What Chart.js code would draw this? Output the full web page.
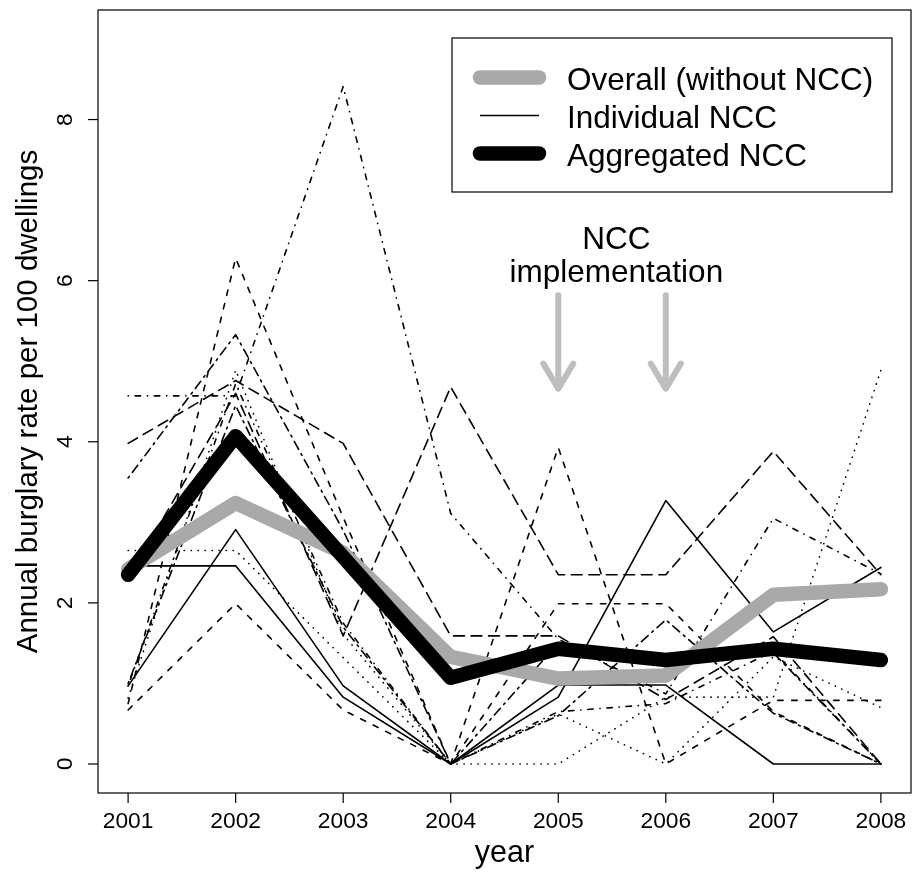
<!DOCTYPE html>
<html>
<head>
<meta charset="utf-8">
<script src="https://cdn.jsdelivr.net/npm/chart.js@4.4.1/dist/chart.umd.min.js"></script>
<style>
  html, body { margin: 0; padding: 0; background: #ffffff; }
  #wrap { width: 912px; height: 875px; }
</style>
</head>
<body>
<div id="wrap"><canvas id="chart" width="912" height="875"></canvas></div>
<script>
// Years on the horizontal axis and tick values on the vertical axis
const years = [2001, 2002, 2003, 2004, 2005, 2006, 2007, 2008];
const yTickValues = [0, 2, 4, 6, 8];

// Annual burglary rate per 100 dwellings
const overallWithoutNCC = [2.42, 3.24, 2.62, 1.33, 1.06, 1.10, 2.10, 2.17];
const aggregatedNCC     = [2.35, 4.07, 2.57, 1.07, 1.43, 1.29, 1.43, 1.29];

// Individual NCC areas
const nccSolidA    = [0.97, 2.91, 0.97, 0.00, 0.83, 3.27, 1.64, 2.44];
const nccSolidB    = [2.46, 2.46, 0.83, 0.00, 0.98, 0.98, 0.00, 0.00];
const nccDashedA   = [0.67, 1.99, 0.67, 0.00, 1.99, 1.99, 0.65, 0.00];
const nccDashedB   = [0.75, 6.28, 3.06, 0.00, 3.93, 0.00, 0.79, 0.79];
const nccDottedA   = [2.65, 2.65, 1.32, 0.00, 0.62, 0.00, 1.33, 0.70];
const nccDottedB   = [0.82, 4.89, 1.61, 0.00, 0.00, 0.83, 0.83, 4.89];
const nccDotDashA  = [4.57, 4.57, 8.41, 3.11, 1.55, 0.87, 3.05, 2.36];
const nccDotDashB  = [0.97, 4.72, 1.75, 0.00, 0.65, 0.75, 1.40, 0.00];
const nccLongDashA = [3.98, 4.76, 3.98, 1.59, 1.59, 0.80, 1.58, 0.00];
const nccLongDashB = [2.30, 4.60, 1.59, 4.68, 2.35, 2.35, 3.88, 2.35];
const nccTwoDashA  = [3.55, 5.33, 2.90, 0.00, 0.60, 1.79, 0.63, 0.00];
const nccTwoDashB  = [1.00, 4.45, 1.70, 0.00, 1.50, 1.25, 1.38, 0.00];

const individualSeries = [
  nccSolidA, nccSolidB, nccDashedA, nccDashedB, nccDottedA, nccDottedB,
  nccDotDashA, nccDotDashB, nccLongDashA, nccLongDashB, nccTwoDashA, nccTwoDashB
];

// Line types of the individual areas (solid, dashed, dotted, dot-dash, long dash, two-dash)
const lineTypes = {
  solid:    [],
  dashed:   [5.5, 8.5],
  dotted:   [0.3, 6.7],
  dotdash:  [0.3, 6.7, 5.5, 6.7],
  longdash: [10.8, 6.7],
  twodash:  [2, 5, 9, 5]
};
const seriesLineType = ['solid', 'solid', 'dashed', 'dashed', 'dotted', 'dotted',
  'dotdash', 'dotdash', 'longdash', 'longdash', 'twodash', 'twodash'];

const FONT = "'Liberation Sans', Arial, Helvetica, sans-serif";
const THICK = 14.5;
const toPoints = vals => vals.map((v, i) => ({ x: years[i], y: v }));

const datasets = individualSeries.map((vals, i) => ({
  label: 'Individual NCC',
  data: toPoints(vals),
  borderColor: '#000000',
  borderWidth: 1.6,
  borderDash: lineTypes[seriesLineType[i]],
  borderCapStyle: 'round',
  borderJoinStyle: 'round',
  pointRadius: 0,
  tension: 0,
  fill: false,
  order: 10 + i
}));
datasets.push({
  label: 'Overall (without NCC)',
  data: toPoints(overallWithoutNCC),
  borderColor: '#a9a9a9',
  borderWidth: THICK,
  borderCapStyle: 'round',
  borderJoinStyle: 'round',
  pointRadius: 0,
  tension: 0,
  fill: false,
  order: 1
});
datasets.push({
  label: 'Aggregated NCC',
  data: toPoints(aggregatedNCC),
  borderColor: '#000000',
  borderWidth: THICK,
  borderCapStyle: 'round',
  borderJoinStyle: 'round',
  pointRadius: 0,
  tension: 0,
  fill: false,
  order: 0
});

// Frame, axes, legend box and the implementation annotation
const decorations = {
  id: 'decorations',
  afterDatasetsDraw(chart) {
    const ctx = chart.ctx;
    const xs = chart.scales.x, ys = chart.scales.y;
    ctx.save();
    // implementation arrows
    ctx.strokeStyle = '#bebebe';
    ctx.lineWidth = 6;
    ctx.lineCap = 'round';
    ctx.lineJoin = 'round';
    [2005, 2006].forEach(yr => {
      const x = xs.getPixelForValue(yr);
      const y0 = ys.getPixelForValue(5.82);
      const y1 = ys.getPixelForValue(4.66);
      ctx.beginPath();
      ctx.moveTo(x, y0);
      ctx.lineTo(x, y1);
      ctx.moveTo(x - 15, y1 - 25);
      ctx.lineTo(x, y1);
      ctx.lineTo(x + 15, y1 - 25);
      ctx.stroke();
    });
    ctx.fillStyle = '#000000';
    ctx.font = '31.5px ' + FONT;
    ctx.textAlign = 'center';
    ctx.textBaseline = 'alphabetic';
    const tx = xs.getPixelForValue(2005.54);
    ctx.fillText('NCC', tx, 249);
    ctx.fillText('implementation', tx, 282);
    ctx.restore();
  },
  afterDraw(chart) {
    const ctx = chart.ctx;
    const a = chart.chartArea;
    const xs = chart.scales.x, ys = chart.scales.y;
    ctx.save();
    ctx.strokeStyle = '#000000';
    ctx.lineWidth = 1.2;
    ctx.lineCap = 'butt';
    // plot frame
    ctx.strokeRect(a.left, a.top, a.right - a.left, a.bottom - a.top);
    // x axis ticks and labels
    ctx.fillStyle = '#000000';
    ctx.font = '22.8px ' + FONT;
    ctx.textAlign = 'center';
    ctx.textBaseline = 'alphabetic';
    years.forEach(yr => {
      const x = xs.getPixelForValue(yr);
      ctx.beginPath();
      ctx.moveTo(x, a.bottom);
      ctx.lineTo(x, a.bottom + 10);
      ctx.stroke();
      ctx.fillText(String(yr), x, 828);
    });
    // y axis ticks and rotated labels
    yTickValues.forEach(v => {
      const y = ys.getPixelForValue(v);
      ctx.beginPath();
      ctx.moveTo(a.left, y);
      ctx.lineTo(a.left - 10, y);
      ctx.stroke();
      ctx.save();
      ctx.translate(72, y);
      ctx.rotate(-Math.PI / 2);
      ctx.fillText(String(v), 0, 0);
      ctx.restore();
    });
    // axis titles
    ctx.font = '30.5px ' + FONT;
    ctx.fillText('year', (a.left + a.right) / 2, 862);
    ctx.save();
    ctx.translate(37, (a.top + a.bottom) / 2);
    ctx.rotate(-Math.PI / 2);
    ctx.font = '29.5px ' + FONT;
    ctx.fillText('Annual burglary rate per 100 dwellings', 0, 0);
    ctx.restore();

    // legend
    ctx.lineWidth = 1.2;
    ctx.strokeStyle = '#000000';
    ctx.fillStyle = '#ffffff';
    ctx.fillRect(452, 38, 440, 154);
    ctx.strokeRect(452, 38, 440, 154);
    const rows = [
      { label: 'Overall (without NCC)', color: '#a9a9a9', width: THICK, y: 77.5 },
      { label: 'Individual NCC', color: '#000000', width: 1.6, y: 115.5 },
      { label: 'Aggregated NCC', color: '#000000', width: THICK, y: 153.5 }
    ];
    ctx.font = '31.5px ' + FONT;
    ctx.textAlign = 'left';
    ctx.textBaseline = 'alphabetic';
    rows.forEach(r => {
      ctx.strokeStyle = r.color;
      ctx.lineWidth = r.width;
      ctx.lineCap = r.width > 5 ? 'round' : 'butt';
      ctx.beginPath();
      ctx.moveTo(480, r.y);
      ctx.lineTo(539, r.y);
      ctx.stroke();
      ctx.fillStyle = '#000000';
      ctx.fillText(r.label, 567, r.y + 12);
    });
    ctx.restore();
  }
};

new Chart(document.getElementById('chart'), {
  type: 'line',
  data: { datasets },
  options: {
    responsive: false,
    animation: false,
    devicePixelRatio: 1,
    layout: { padding: { left: 98, top: 10, right: 1, bottom: 82 } },
    plugins: { legend: { display: false }, tooltip: { enabled: false } },
    scales: {
      x: { type: 'linear', min: 2000.72, max: 2008.28, display: false },
      y: { type: 'linear', min: -0.36, max: 9.36, display: false }
    }
  },
  plugins: [decorations]
});
</script>
</body>
</html>
